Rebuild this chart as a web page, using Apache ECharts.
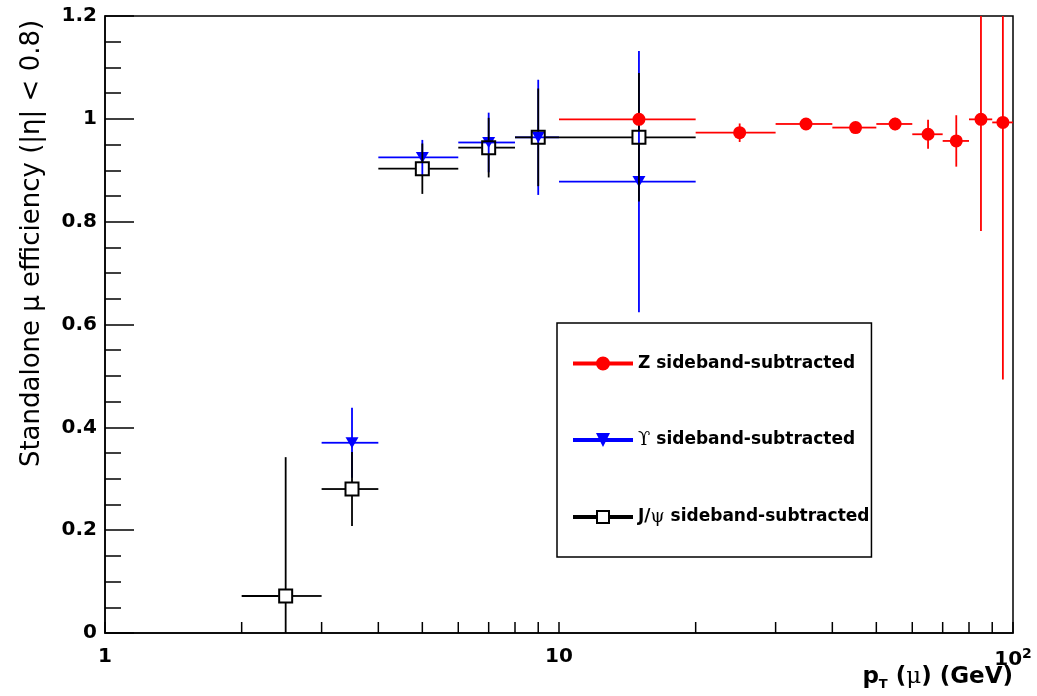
<!DOCTYPE html>
<html>
<head>
<meta charset="utf-8">
<script src="https://cdn.jsdelivr.net/npm/echarts@6/dist/echarts.min.js"></script>
<style>
  html, body { margin: 0; padding: 0; background: #fff; }
  #chart { width: 1037px; height: 696px; }
</style>
</head>
<body>
<div id="chart"></div>
<script>
// Z sideband-subtracted (red circles)
const zX = [15, 25, 35, 45, 55, 65, 75, 85, 95];
const zXLo = [10, 20, 30, 40, 50, 60, 70, 80, 90];
const zXHi = [20, 30, 40, 50, 60, 70, 80, 90, 100];
const zY = [0.999, 0.973, 0.990, 0.983, 0.990, 0.970, 0.957, 0.999, 0.993];
const zErr = [0.010, 0.018, 0.008, 0.008, 0.012, 0.028, 0.050, 0.217, 0.500];

// Upsilon sideband-subtracted (blue down triangles)
const upsX = [3.5, 5, 7, 9, 15];
const upsXLo = [3, 4, 6, 8, 10];
const upsXHi = [4, 6, 8, 10, 20];
const upsY = [0.370, 0.925, 0.954, 0.964, 0.878];
const upsErr = [0.068, 0.034, 0.058, 0.112, 0.254];

// J/psi sideband-subtracted (open squares)
const jpsiX = [2.5, 3.5, 5, 7, 9, 15];
const jpsiXLo = [2, 3, 4, 6, 8, 10];
const jpsiXHi = [3, 4, 6, 8, 10, 20];
const jpsiY = [0.072, 0.280, 0.903, 0.944, 0.964, 0.964];
const jpsiErr = [0.270, 0.072, 0.049, 0.058, 0.095, 0.125];

// axis ticks
const yTicks = [0, 0.2, 0.4, 0.6, 0.8, 1.0, 1.2];
const xMinorTicks = [2, 3, 4, 5, 6, 7, 8, 9, 20, 30, 40, 50, 60, 70, 80, 90];

const names = ['Z sideband-subtracted', 'ϒ sideband-subtracted', 'J/ψ sideband-subtracted'];

const myChart = echarts.init(document.getElementById('chart'));

function markerShape(kind, p, color) {
  if (kind === 'circle') {
    return { type: 'circle', shape: { cx: p[0], cy: p[1], r: 6.5 }, style: { fill: color } };
  }
  if (kind === 'triangle') {
    return {
      type: 'polygon',
      shape: { points: [[p[0] - 6.5, p[1] - 5.5], [p[0] + 6.5, p[1] - 5.5], [p[0], p[1] + 5.5]] },
      style: { fill: color }
    };
  }
  return {
    type: 'rect',
    shape: { x: p[0] - 6.5, y: p[1] - 6.5, width: 13, height: 13 },
    style: { fill: 'none', stroke: color, lineWidth: 2 }
  };
}

function errSeries(name, xs, lo, hi, ys, errs, color, kind) {
  const gap = kind === 'square' ? 7 : 0;
  return {
    name: name,
    type: 'custom',
    clip: true,
    itemStyle: { color: color },
    encode: { x: 0, y: 1 },
    data: xs.map((x, i) => [x, ys[i], lo[i], hi[i], errs[i]]),
    renderItem: function (params, api) {
      const x = api.value(0), y = api.value(1), e = api.value(4);
      const p = api.coord([x, y]);
      const l = api.coord([api.value(2), y]);
      const r = api.coord([api.value(3), y]);
      const t = api.coord([x, y + e]);
      const b = api.coord([x, y - e]);
      const ls = { stroke: color, lineWidth: 1.8 };
      const segs = [
        [l[0], p[1], p[0] - gap, p[1]],
        [p[0] + gap, p[1], r[0], p[1]],
        [p[0], t[1], p[0], p[1] - gap],
        [p[0], p[1] + gap, p[0], b[1]]
      ];
      const children = [];
      segs.forEach(s => {
        if (Math.abs(s[2] - s[0]) + Math.abs(s[3] - s[1]) > 0.5 &&
            (s[2] >= s[0] && s[3] >= s[1])) {
          children.push({ type: 'line', shape: { x1: s[0], y1: s[1], x2: s[2], y2: s[3] }, style: ls });
        }
      });
      children.push(markerShape(kind, p, color));
      return { type: 'group', children: children };
    }
  };
}

const option = {
  backgroundColor: '#fff',
  animation: false,
  grid: {
    left: 105, right: 24, top: 16, bottom: 63,
    outerBoundsMode: 'none',
    containLabel: false,
    show: true, borderColor: '#000', borderWidth: 1.5, backgroundColor: '#fff'
  },
  legend: {
    orient: 'vertical',
    left: 557, top: 323,
    padding: [32, 2, 31, 16],
    itemWidth: 60, itemHeight: 14, itemGap: 59,
    backgroundColor: '#fff', borderColor: '#000', borderWidth: 1.5,
    selectedMode: false,
    data: [
      { name: names[0], icon: 'path://M0,5L60,5L60,9L0,9Z M23,7A7,7 0 1,1 37,7A7,7 0 1,1 23,7Z', itemStyle: { color: '#ff0000' } },
      { name: names[1], icon: 'path://M0,5L60,5L60,9L0,9Z M23,0L37,0L30,14Z', itemStyle: { color: '#0000ff' } },
      { name: names[2], icon: 'path://M0,5L23,5L23,9L0,9Z M37,5L60,5L60,9L37,9Z M23,0L37,0L37,14L23,14Z M25,2L25,12L35,12L35,2Z', itemStyle: { color: '#000' } }
    ],
    formatter: function (n) {
      return n.replace('ϒ', '{sym|ϒ}').replace('ψ', '{sym|ψ}');
    },
    textStyle: {
      fontFamily: 'DejaVu Sans', fontWeight: 'bold', fontSize: 17, color: '#000',
      rich: { sym: { fontFamily: 'DejaVu Serif', fontWeight: 'normal', fontSize: 18, color: '#000' } }
    }
  },
  xAxis: {
    type: 'log', logBase: 10, min: 1, max: 100,
    name: '{b|p}{s|T}{b| (}{g|μ}{b|) (GeV)}',
    nameLocation: 'end', nameGap: 0,
    nameMoveOverlap: false,
    nameTextStyle: {
      align: 'right', verticalAlign: 'top', padding: [31, 0, 0, 0],
      rich: {
        b: { fontFamily: 'DejaVu Sans', fontWeight: 'bold', fontSize: 23, color: '#000' },
        s: { fontFamily: 'DejaVu Sans', fontWeight: 'bold', fontSize: 13, color: '#000', verticalAlign: 'bottom', padding: [14, 0, 0, 0] },
        g: { fontFamily: 'DejaVu Serif', fontSize: 23, color: '#000' }
      }
    },
    axisLine: { lineStyle: { color: '#000', width: 1.5 } },
    axisTick: { inside: true, length: 11, lineStyle: { color: '#000', width: 1.5 } },
    splitLine: { show: false },
    axisLabel: {
      margin: 14,
      formatter: function (v) { return v >= 100 ? '10{sup|2}' : String(v); },
      fontFamily: 'DejaVu Sans', fontWeight: 'bold', fontSize: 20, color: '#000',
      rich: { sup: { fontFamily: 'DejaVu Sans', fontWeight: 'bold', fontSize: 14, color: '#000', padding: [0, 0, 12, 0] } }
    }
  },
  yAxis: {
    type: 'value', min: yTicks[0], max: yTicks[yTicks.length - 1], interval: 0.2,
    name: 'Standalone μ efficiency (|η| < 0.8)',
    nameLocation: 'middle', nameGap: 60,
    nameTextStyle: { fontFamily: 'DejaVu Sans', fontSize: 26, color: '#000', padding: [0, 0, 0, 162] },
    axisLine: { lineStyle: { color: '#000', width: 1.5 } },
    axisTick: { inside: true, length: 29, lineStyle: { color: '#000', width: 1.5 } },
    minorTick: { show: true, splitNumber: 4, length: 16, lineStyle: { color: '#000', width: 1.5 } },
    splitLine: { show: false },
    axisLabel: { margin: 8, fontFamily: 'DejaVu Sans', fontWeight: 'bold', fontSize: 20, color: '#000' }
  },
  series: [
    {
      type: 'custom',
      silent: true,
      data: xMinorTicks.map(v => [v, 0]),
      encode: { x: 0, y: 1 },
      renderItem: function (params, api) {
        const p = api.coord([api.value(0), 0]);
        return { type: 'line', shape: { x1: p[0], y1: p[1], x2: p[0], y2: p[1] - 11 }, style: { stroke: '#000', lineWidth: 1.5 } };
      }
    },
    errSeries(names[1], upsX, upsXLo, upsXHi, upsY, upsErr, '#0000ff', 'triangle'),
    errSeries(names[2], jpsiX, jpsiXLo, jpsiXHi, jpsiY, jpsiErr, '#000', 'square'),
    errSeries(names[0], zX, zXLo, zXHi, zY, zErr, '#ff0000', 'circle')
  ]
};
myChart.setOption(option);
</script>
</body>
</html>
